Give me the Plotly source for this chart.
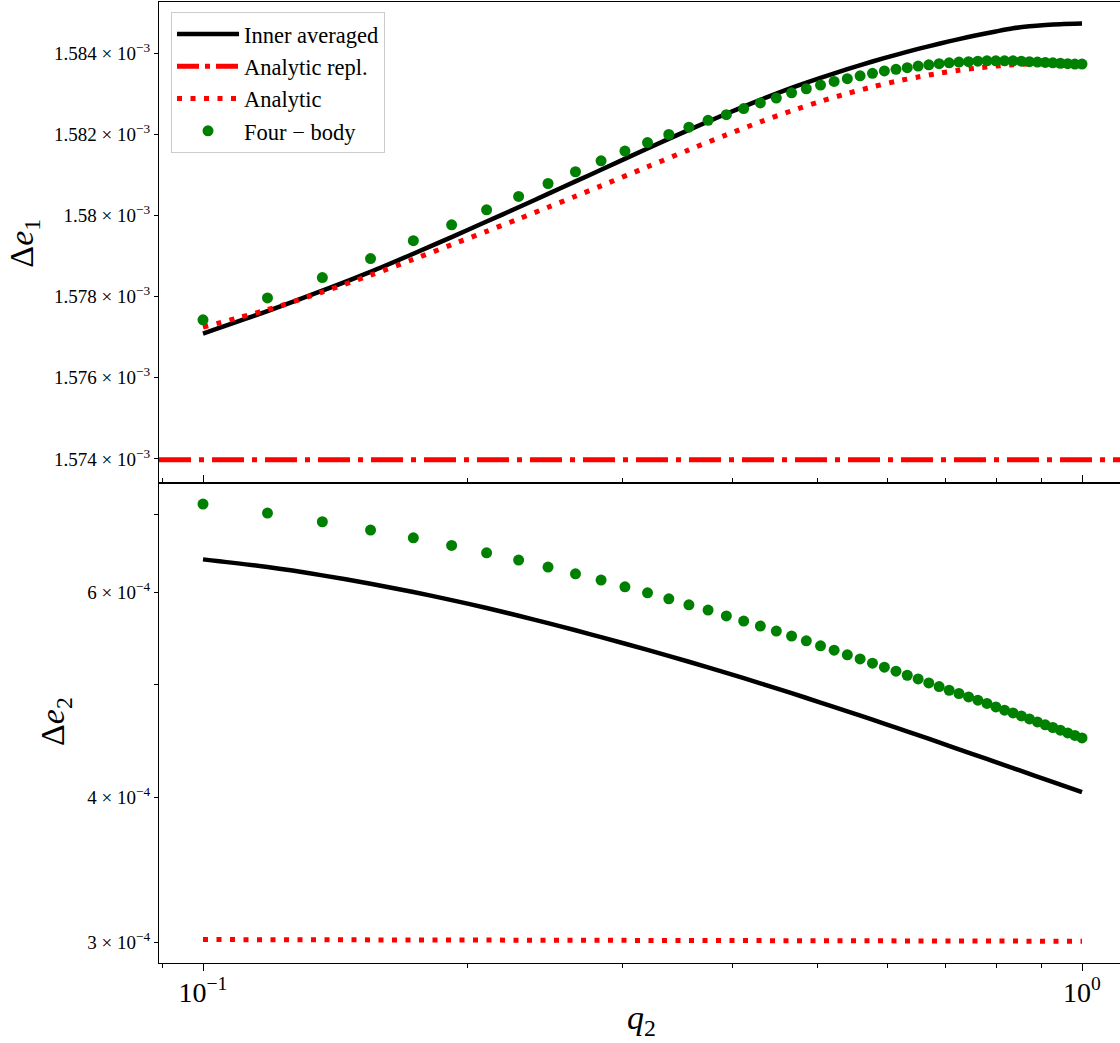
import numpy as np
import plotly.graph_objects as go
from plotly.subplots import make_subplots

# ---------------- data ----------------
q2_points = [0.1, 0.1184, 0.1367, 0.1551, 0.1735, 0.1918, 0.2102, 0.2286, 0.2469, 0.2653,
             0.2837, 0.3020, 0.3204, 0.3388, 0.3571, 0.3755, 0.3939, 0.4122, 0.4306, 0.4490,
             0.4673, 0.4857, 0.5041, 0.5224, 0.5408, 0.5592, 0.5776, 0.5959, 0.6143, 0.6327,
             0.6510, 0.6694, 0.6878, 0.7061, 0.7245, 0.7429, 0.7612, 0.7796, 0.7980, 0.8163,
             0.8347, 0.8531, 0.8714, 0.8898, 0.9082, 0.9265, 0.9449, 0.9633, 0.9816, 1.0]

q2_line = [0.1, 0.1184, 0.1367, 0.1551, 0.1735, 0.1918, 0.2102, 0.2286, 0.2469, 0.2653,
           0.2837, 0.3204, 0.3571, 0.3939, 0.4306, 0.4673, 0.5041, 0.5408, 0.5776, 0.6143,
           0.6510, 0.6878, 0.7245, 0.7612, 0.7980, 0.8347, 0.8714, 0.9082, 0.9449, 1.0]

# top panel (Delta e1), units of 1e-3
de1_inner = [1.577081, 1.577635, 1.578138, 1.578602, 1.579048, 1.579459, 1.579842, 1.580194, 1.580524, 1.580832,
             1.581118, 1.581646, 1.582104, 1.582501, 1.582846, 1.583142, 1.583389, 1.583603, 1.583793, 1.583958,
             1.584104, 1.584232, 1.584348, 1.584449, 1.584537, 1.584614, 1.584663, 1.584695, 1.584717, 1.584732]
de1_analytic = [1.577241, 1.577670, 1.578104, 1.578520, 1.578910, 1.579270, 1.579600, 1.579906, 1.580194, 1.580465,
                1.580722, 1.581192, 1.581611, 1.581981, 1.582302, 1.582575, 1.582807, 1.583002, 1.583167, 1.583302,
                1.583411, 1.583502, 1.583576, 1.583635, 1.583680, 1.583712, 1.583731, 1.583741, 1.583741, 1.583731]
de1_analytic_repl = 1.57398
de1_fourbody = [1.57742, 1.57796, 1.57846, 1.57893, 1.57937, 1.57976, 1.58013, 1.58046, 1.58078, 1.58107,
                1.58134, 1.58158, 1.58179, 1.58199, 1.58217, 1.58234, 1.58248, 1.58263, 1.58277, 1.58289,
                1.58302, 1.58312, 1.58321, 1.58330, 1.58337, 1.58344, 1.58350, 1.58356, 1.58360, 1.58364,
                1.58368, 1.58371, 1.58374, 1.58376, 1.58378, 1.58379, 1.58380, 1.58381, 1.58381, 1.58381,
                1.58381, 1.58380, 1.58379, 1.58378, 1.58377, 1.58376, 1.58375, 1.58374, 1.58373, 1.58373]

# bottom panel (Delta e2), units of 1e-4
de2_inner = [6.410, 6.313, 6.210, 6.108, 6.008, 5.913, 5.821, 5.733, 5.649, 5.570,
             5.495, 5.358, 5.233, 5.119, 5.014, 4.917, 4.827, 4.744, 4.666, 4.593,
             4.525, 4.460, 4.399, 4.343, 4.289, 4.239, 4.191, 4.146, 4.103, 4.042]
de2_analytic_q = [0.1, 0.2837, 0.4673, 0.6510, 0.8347, 1.0]
de2_analytic = [3.018, 3.016, 3.014, 3.012, 3.010, 3.008]
de2_fourbody = [7.152, 7.026, 6.906, 6.793, 6.690, 6.590, 6.494, 6.401, 6.313, 6.229,
                6.152, 6.071, 5.999, 5.928, 5.858, 5.797, 5.731, 5.672, 5.616, 5.561,
                5.506, 5.455, 5.401, 5.355, 5.305, 5.263, 5.218, 5.177, 5.136, 5.095,
                5.058, 5.018, 4.982, 4.946, 4.914, 4.881, 4.849, 4.818, 4.785, 4.754,
                4.729, 4.701, 4.673, 4.645, 4.618, 4.594, 4.570, 4.545, 4.522, 4.500]

top_ticks = [1.574, 1.576, 1.578, 1.580, 1.582, 1.584]
top_ticklabels = ["1.574", "1.576", "1.578", "1.58", "1.582", "1.584"]
bot_ticks = [3, 4, 5, 6, 7]
bot_ticklabels = ["3", "4", "", "6", ""]
x_major = [0.1, 1.0]
x_major_labels = ["10<sup>−1</sup>", "10<sup>0</sup>"]
x_minor = [0.09, 0.2, 0.3, 0.4, 0.5, 0.6, 0.7, 0.8, 0.9]

# ---------------- figure ----------------
E3 = 1e-3
E4 = 1e-4
FONT = "Liberation Serif"
BLACK = "#000000"
RED = "#ff0000"
GREEN = "#008000"

fig = make_subplots(rows=2, cols=1, shared_xaxes=True, vertical_spacing=0)

# top panel
fig.add_trace(go.Scatter(x=q2_line, y=[v * E3 for v in de1_inner], mode="lines",
                         line=dict(color=BLACK, width=4.5, shape="spline", smoothing=0.8),
                         name="Inner averaged"), row=1, col=1)
fig.add_trace(go.Scatter(x=[None], y=[None], mode="lines",
                         line=dict(color=RED, width=5, dash="22px,6px,5px,6px"),
                         name="Analytic repl."), row=1, col=1)
fig.add_trace(go.Scatter(x=q2_line, y=[v * E3 for v in de1_analytic], mode="lines",
                         line=dict(color=RED, width=5, dash="5px,8.5px", shape="spline", smoothing=0.8),
                         name="Analytic"), row=1, col=1)
fig.add_trace(go.Scatter(x=q2_points, y=[v * E3 for v in de1_fourbody], mode="markers",
                         marker=dict(color=GREEN, size=11), name="Four − body"), row=1, col=1)

# bottom panel
fig.add_trace(go.Scatter(x=q2_line, y=[v * E4 for v in de2_inner], mode="lines",
                         line=dict(color=BLACK, width=4.5, shape="spline", smoothing=0.8),
                         showlegend=False), row=2, col=1)
fig.add_trace(go.Scatter(x=de2_analytic_q, y=[v * E4 for v in de2_analytic], mode="lines",
                         line=dict(color=RED, width=5, dash="5px,8.5px"), showlegend=False), row=2, col=1)
fig.add_trace(go.Scatter(x=q2_points, y=[v * E4 for v in de2_fourbody], mode="markers",
                         marker=dict(color=GREEN, size=11), showlegend=False), row=2, col=1)

fig.add_hline(y=de1_analytic_repl * E3, row=1, col=1, layer="below",
              line=dict(color=RED, width=5, dash="32px,8px,5px,8px"))

xr = [-1.05006, 0.04323]
top_range = [np.log10(1.573408e-3), np.log10(1.585265e-3)]
bot_range = [-3.54045, -3.12741]

axis_common = dict(showline=True, linecolor=BLACK, linewidth=1.2, showgrid=False, zeroline=False,
                   tickcolor=BLACK, tickwidth=1, ticks="outside")

fig.update_xaxes(type="log", range=xr, **axis_common)
fig.update_xaxes(row=1, col=1, showticklabels=False, ticks="", mirror=True,
                 minor=dict(ticks=""))
fig.update_xaxes(row=2, col=1, tickmode="array", tickvals=x_major, ticktext=x_major_labels,
                 ticklen=7, mirror="ticks", ticklabelstandoff=-3,
                 tickfont=dict(family=FONT, size=28, color=BLACK),
                 minor=dict(tickmode="array", tickvals=x_minor, ticks="outside", ticklen=4,
                            tickcolor=BLACK, tickwidth=1, showgrid=False))

fig.update_yaxes(type="log", **axis_common)
fig.update_yaxes(row=1, col=1, range=top_range, domain=[0.4995, 1.0], tickmode="array",
                 tickvals=[t * E3 for t in top_ticks],
                 ticktext=[s + " × 10<sup>−3</sup>" for s in top_ticklabels],
                 ticklen=4, tickfont=dict(family=FONT, size=19, color=BLACK))
fig.update_yaxes(row=2, col=1, range=bot_range, domain=[0.0, 0.4995], tickmode="array",
                 tickvals=[t * E4 for t in bot_ticks],
                 ticktext=[(s + " × 10<sup>−4</sup>") if s else "" for s in bot_ticklabels],
                 ticklen=4, tickfont=dict(family=FONT, size=19, color=BLACK))

fig.add_annotation(text="Δ<i>e</i><sub>1</sub>", xref="paper", yref="paper", x=-0.140, y=0.749,
                   xanchor="center", yanchor="middle",
                   textangle=-90, showarrow=False, font=dict(family=FONT, size=34, color=BLACK))
fig.add_annotation(text="Δ<i>e</i><sub>2</sub>", xref="paper", yref="paper", x=-0.108, y=0.251,
                   xanchor="center", yanchor="middle",
                   textangle=-90, showarrow=False, font=dict(family=FONT, size=34, color=BLACK))
fig.add_annotation(text="<i>q</i><sub>2</sub>", xref="paper", yref="paper", x=0.5026, y=-0.059,
                   xanchor="center", yanchor="middle",
                   showarrow=False, font=dict(family=FONT, size=34, color=BLACK))

fig.update_layout(
    width=1120, height=1043,
    margin=dict(l=159, r=0, t=2, b=80),
    paper_bgcolor="white", plot_bgcolor="white",
    font=dict(family=FONT, color=BLACK),
    legend=dict(x=0.0125, y=0.9896, xanchor="left", yanchor="top",
                bgcolor="rgba(255,255,255,0.8)", bordercolor="#cccccc", borderwidth=1,
                font=dict(family=FONT, size=22.5, color=BLACK), itemwidth=62,
                tracegroupgap=0),
)

fig.write_html("out.html")
